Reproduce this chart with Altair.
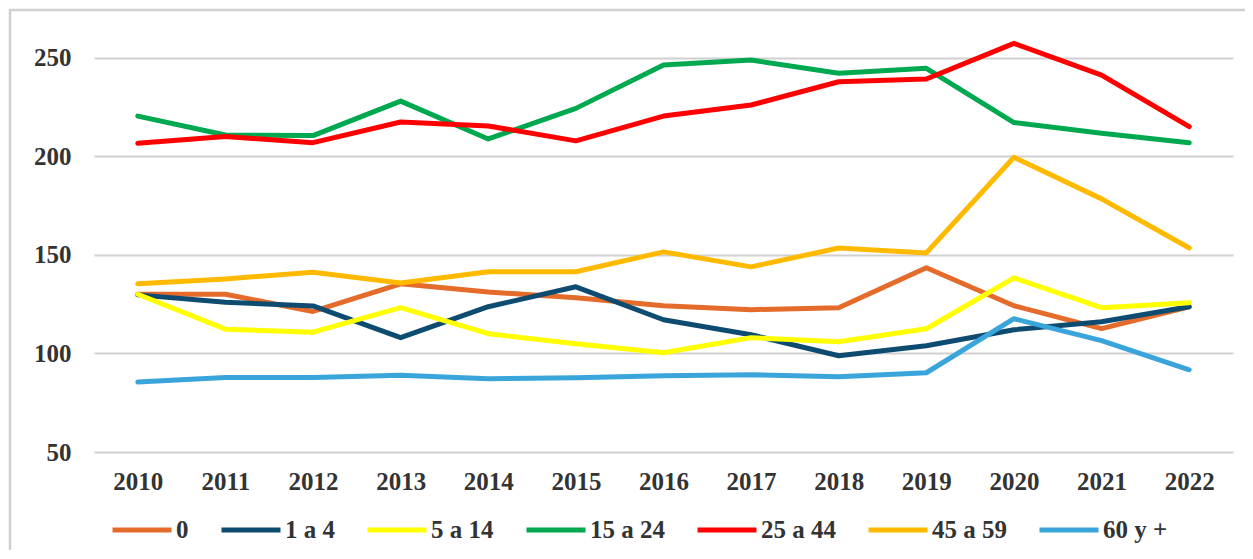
import altair as alt
import pandas as pd

years = [str(y) for y in range(2010, 2023)]
series_names = ["0", "1 a 4", "5 a 14", "15 a 24", "25 a 44", "45 a 59", "60 y +"]
colors = ["#E56B2B", "#0E4B70", "#FFFF00", "#00A84F", "#FF0000", "#FFBA00", "#3AA5DB"]

s_0 = [130.0, 130.0, 121.3, 135.3, 131.2, 128.2, 124.2, 122.2, 123.2, 143.5, 124.2, 112.6, 123.7]
s_1a4 = [129.7, 126.0, 124.1, 108.0, 123.7, 133.8, 117.1, 109.5, 98.8, 103.9, 112.0, 116.1, 123.7]
s_5a14 = [130.0, 112.3, 110.8, 123.2, 110.0, 104.9, 100.3, 108.0, 105.9, 112.5, 138.3, 123.2, 125.7]
s_15a24 = [220.4, 210.8, 210.5, 228.0, 208.8, 224.3, 246.3, 248.8, 242.1, 244.6, 217.1, 211.7, 206.9]
s_25a44 = [206.6, 210.0, 206.9, 217.4, 215.4, 207.8, 220.4, 226.0, 237.8, 239.2, 257.3, 241.2, 215.0]
s_45a59 = [135.3, 137.8, 141.2, 135.7, 141.4, 141.4, 151.5, 143.9, 153.5, 151.0, 199.5, 178.4, 153.5]
s_60 = [85.5, 87.8, 87.8, 88.9, 87.2, 87.7, 88.7, 89.2, 88.2, 90.2, 117.6, 106.5, 91.7]

y_ticks = [50, 100, 150, 200, 250]

all_series = [s_0, s_1a4, s_5a14, s_15a24, s_25a44, s_45a59, s_60]
rows = []
for name, vals in zip(series_names, all_series):
    for yr, v in zip(years, vals):
        rows.append({"year": yr, "serie": name, "valor": v})
df = pd.DataFrame(rows)

FONT = "Liberation Serif"
TXT = "#333333"

lines = alt.Chart(df).mark_line(strokeWidth=5, strokeCap="round", strokeJoin="round").encode(
    x=alt.X("year:O", sort=years,
            axis=alt.Axis(title=None, labelAngle=0, ticks=False, tickSize=0, domain=False,
                          labelFont=FONT, labelFontSize=25, labelFontWeight="bold",
                          labelColor=TXT, labelPadding=17, grid=False)),
    y=alt.Y("valor:Q", scale=alt.Scale(domain=[50, 260], nice=False, zero=False),
            axis=alt.Axis(title=None, values=y_ticks, ticks=False, tickSize=0, domain=False,
                          labelFont=FONT, labelFontSize=25, labelFontWeight="bold",
                          labelColor=TXT, labelPadding=23, gridColor="#d0d0d0",
                          gridWidth=2)),
    color=alt.Color("serie:N", sort=series_names,
                    scale=alt.Scale(domain=series_names, range=colors),
                    legend=alt.Legend(title=None, orient="none", direction="horizontal",
                                      legendX=16, legendY=460, symbolType="stroke",
                                      symbolStrokeWidth=5, symbolSize=3481,
                                      labelFont=FONT, labelFontSize=25,
                                      labelFontWeight="bold", labelColor=TXT,
                                      labelOffset=2, columnPadding=22, padding=0,
                                      columns=7)),
    order=alt.Order("serie_idx:Q"),
).transform_calculate(
    serie_idx="indexof(" + str(series_names) + ", datum.serie)"
)

frame = alt.Chart(pd.DataFrame({"k": [0]})).mark_rect(
    fill=None, stroke="#d0d0d0", strokeWidth=2.5
).encode(
    x=alt.value(-84), x2=alt.value(1200), y=alt.value(-28), y2=alt.value(560)
)

chart = alt.layer(frame, lines).properties(
    width=1139, height=414,
    autosize=alt.AutoSizeParams(type="none"),
    padding={"left": 86, "top": 30, "right": 12, "bottom": 98},
).configure_view(stroke=None)

chart.save("out.html", embed_options={"renderer": "svg", "actions": False})
